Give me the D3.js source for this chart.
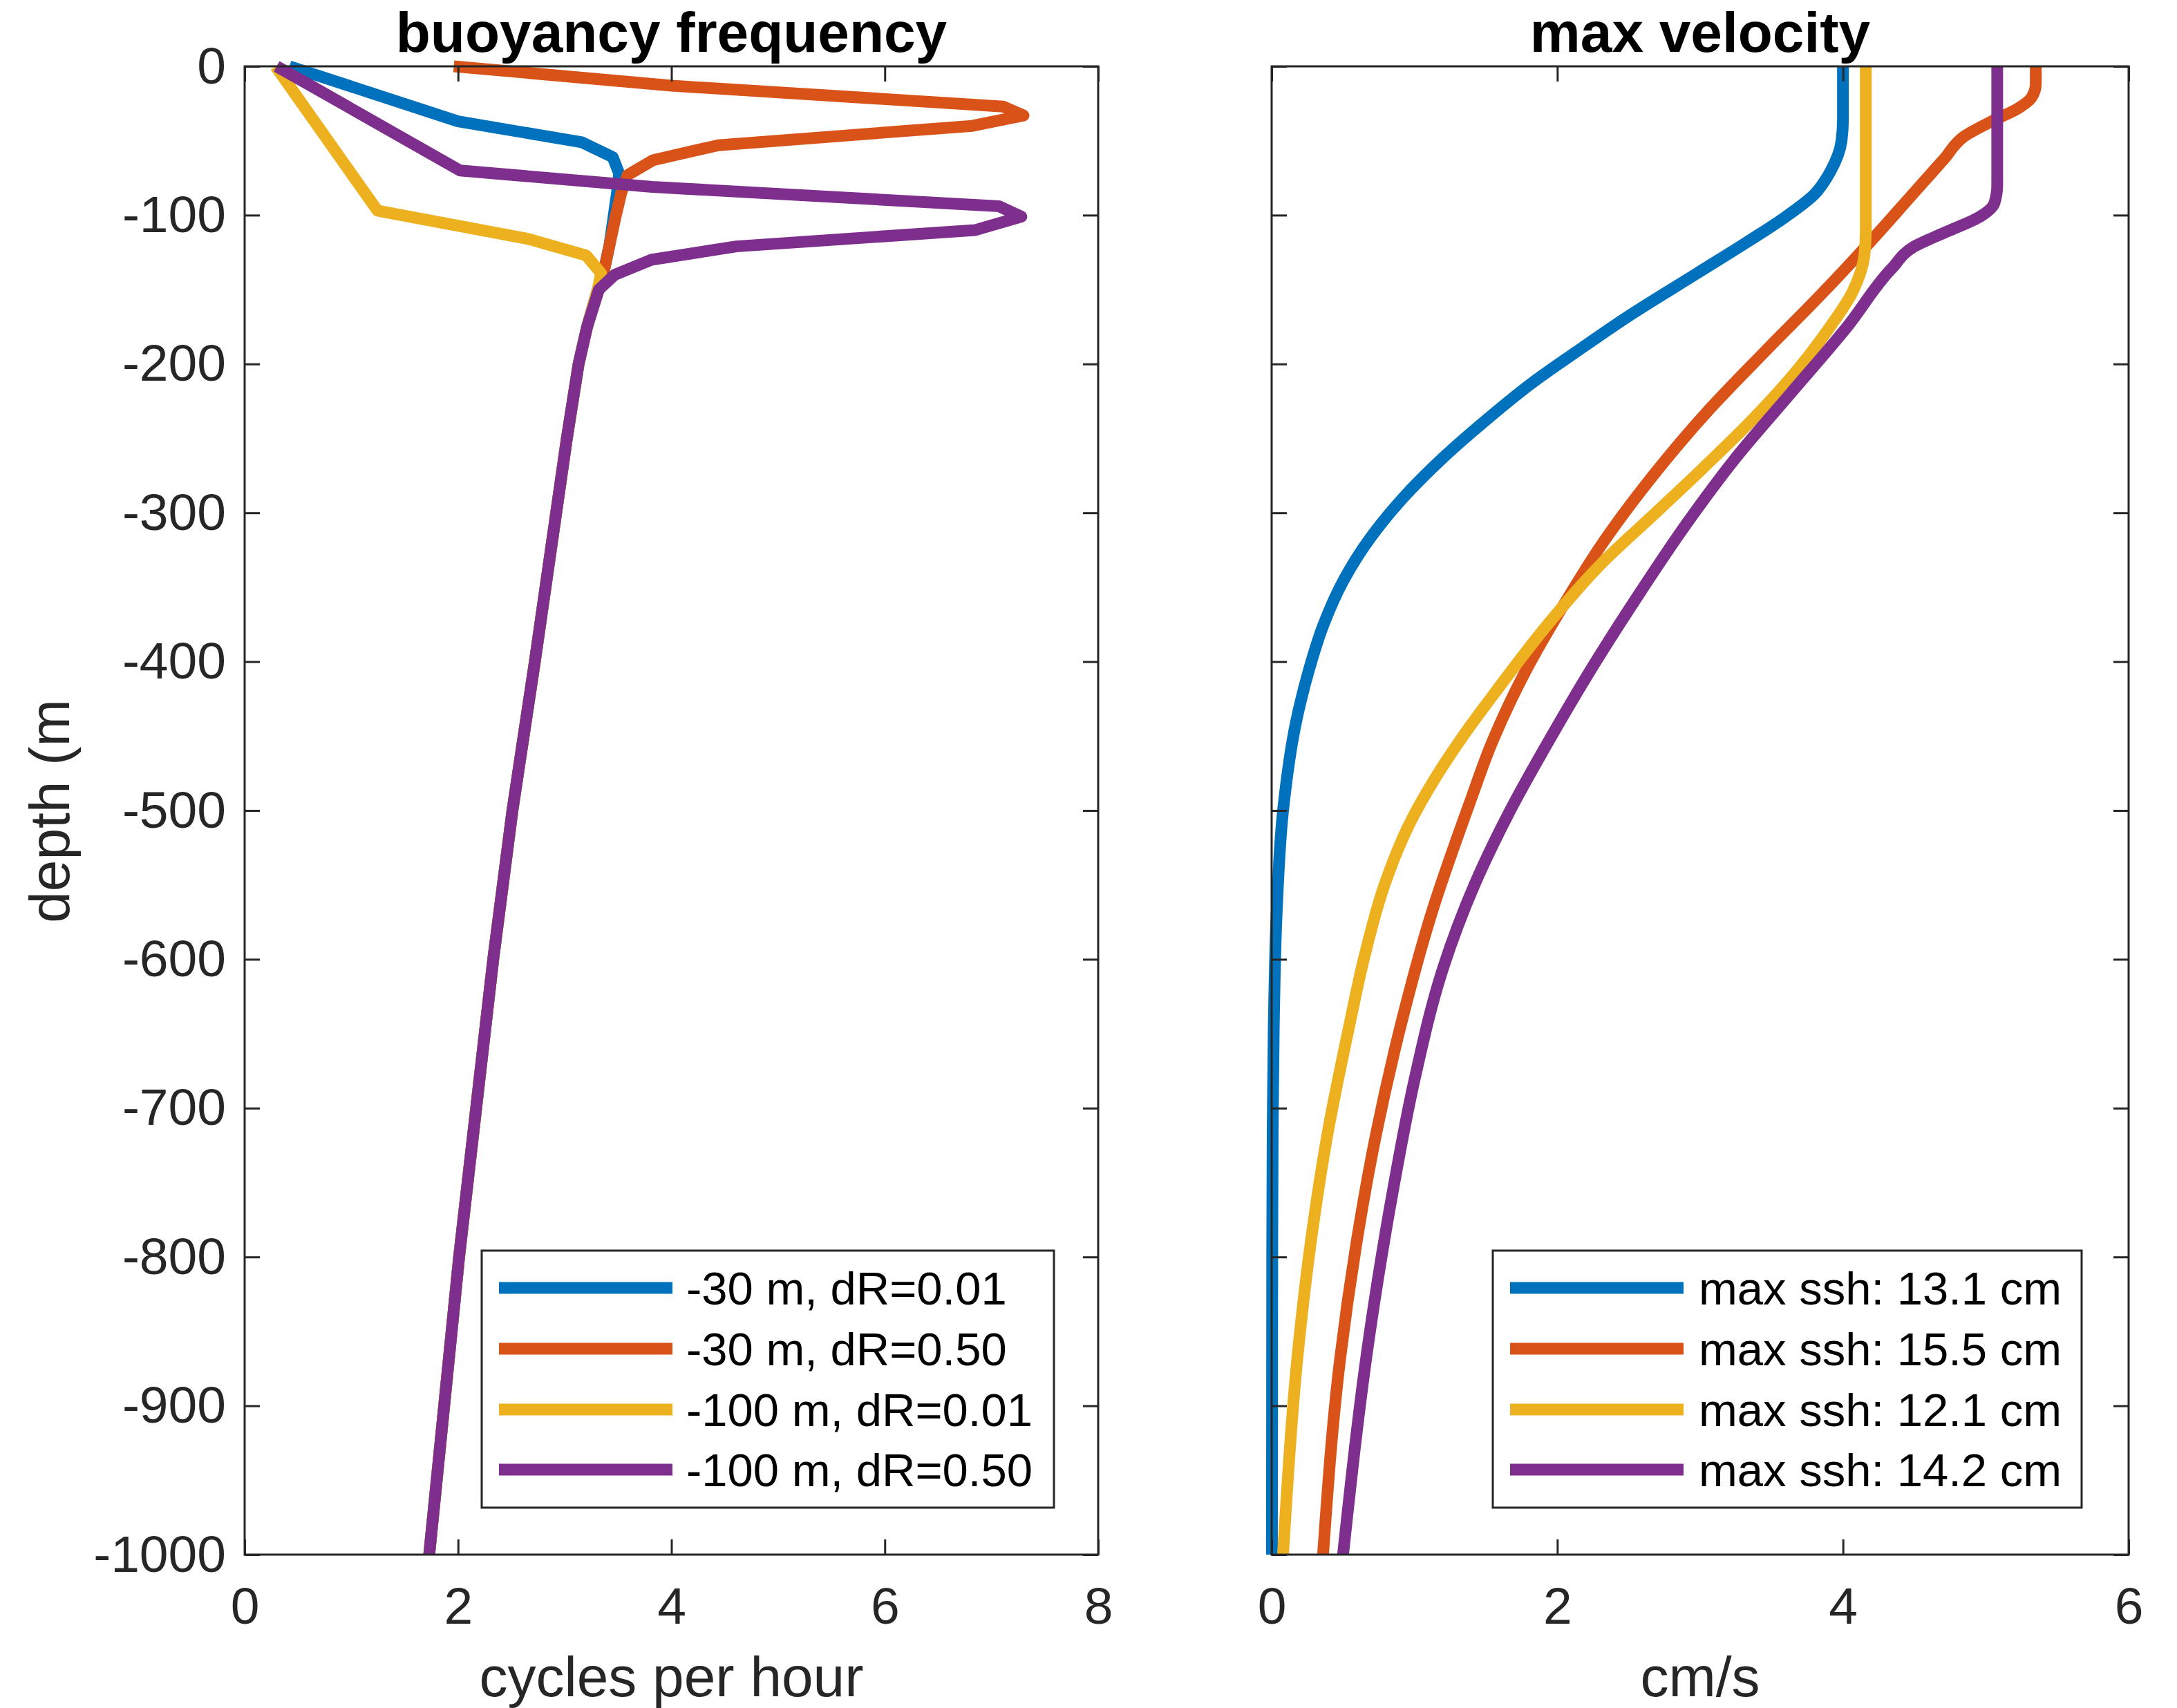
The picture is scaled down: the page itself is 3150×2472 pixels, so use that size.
<!DOCTYPE html>
<html>
<head>
<meta charset="utf-8">
<script src="https://cdn.jsdelivr.net/npm/d3@7"></script>
<style>
  html, body { margin: 0; padding: 0; background: #ffffff; }
  svg { display: block; }
  text { font-family: "Liberation Sans", Arial, Helvetica, sans-serif; }
</style>
</head>
<body>
<svg id="chart" width="3150" height="2472"></svg>
<script>
// ---------------- DATA ----------------
const seriesColors = ["#0072BD", "#D95319", "#EDB120", "#7E2F8E"];
const leftLegend = ["-30 m, dR=0.01", "-30 m, dR=0.50", "-100 m, dR=0.01", "-100 m, dR=0.50"];
const rightLegend = ["max ssh: 13.1 cm", "max ssh: 15.5 cm", "max ssh: 12.1 cm", "max ssh: 14.2 cm"];

const xTicksLeft = [0, 2, 4, 6, 8];
const xTicksRight = [0, 2, 4, 6];
const yTicks = [0, -100, -200, -300, -400, -500, -600, -700, -800, -900, -1000];

// buoyancy frequency (cycles per hour) vs depth (m)
const nDepthBlue   = [0, -37, -51, -61, -72, -85, -100, -120, -140, -150, -175, -200, -250, -300, -400, -500, -600, -700, -800, -900, -1000];
const nBlue        = [0.42, 2.0, 3.16, 3.45, 3.51, 3.49, 3.46, 3.42, 3.36, 3.31, 3.21, 3.13, 3.02, 2.92, 2.72, 2.51, 2.33, 2.17, 2.01, 1.87, 1.73];
const nDepthOrange = [0, -13, -27, -33, -40, -53, -63, -73, -85, -100, -120, -140, -150, -175, -200, -250, -300, -400, -500, -600, -700, -800, -900, -1000];
const nOrange      = [1.96, 4.0, 7.11, 7.30, 6.82, 4.44, 3.83, 3.59, 3.53, 3.48, 3.42, 3.36, 3.31, 3.21, 3.13, 3.02, 2.92, 2.72, 2.51, 2.33, 2.17, 2.01, 1.87, 1.73];
const nDepthYellow = [0, -97, -116, -127, -139, -150, -175, -200, -250, -300, -400, -500, -600, -700, -800, -900, -1000];
const nYellow      = [0.29, 1.245, 2.66, 3.2, 3.34, 3.31, 3.21, 3.13, 3.02, 2.92, 2.72, 2.51, 2.33, 2.17, 2.01, 1.87, 1.73];
const nDepthPurple = [0, -70, -81, -94, -101, -110, -121, -130, -140, -150, -175, -200, -250, -300, -400, -500, -600, -700, -800, -900, -1000];
const nPurple      = [0.3, 2.02, 3.82, 7.07, 7.28, 6.85, 4.61, 3.81, 3.47, 3.32, 3.21, 3.13, 3.02, 2.92, 2.72, 2.51, 2.33, 2.17, 2.01, 1.87, 1.73];

// max velocity (cm/s) vs depth (m)
const vDepthBlue   = [0, -35, -50, -71, -86, -101, -118, -139, -169, -192, -213, -237, -263, -290, -317, -346, -376, -406, -441, -500, -569, -644, -718, -800, -900, -1000];
const vBlue        = [4.0, 4.0, 3.99, 3.91, 3.80, 3.60, 3.33, 2.98, 2.48, 2.13, 1.82, 1.51, 1.20, 0.92, 0.69, 0.50, 0.36, 0.26, 0.17, 0.08, 0.035, 0.015, 0.007, 0.004, 0.003, 0.002];
const vDepthOrange = [0, -12, -21, -28, -37, -47, -62, -89, -118, -154, -192, -231, -275, -320, -361, -406, -455, -494, -569, -644, -718, -793, -868, -1000];
const vOrange      = [5.35, 5.35, 5.32, 5.23, 5.04, 4.85, 4.71, 4.46, 4.19, 3.84, 3.45, 3.06, 2.67, 2.32, 2.05, 1.78, 1.54, 1.39, 1.12, 0.905, 0.73, 0.59, 0.48, 0.36];
const vDepthYellow = [0, -110, -127, -151, -175, -204, -237, -270, -299, -335, -373, -420, -450, -476, -510, -550, -600, -644, -718, -793, -868, -1000];
const vYellow      = [4.16, 4.16, 4.15, 4.07, 3.91, 3.68, 3.37, 3.02, 2.70, 2.30, 1.95, 1.57, 1.34, 1.16, 0.96, 0.79, 0.645, 0.545, 0.39, 0.27, 0.18, 0.08];
const vDepthPurple = [0, -80, -92, -101, -111, -121, -136, -175, -219, -263, -308, -352, -403, -450, -500, -550, -606, -681, -755, -849, -1000];
const vPurple      = [5.08, 5.08, 5.06, 4.96, 4.73, 4.50, 4.34, 4.03, 3.64, 3.25, 2.90, 2.59, 2.25, 1.96, 1.67, 1.42, 1.20, 1.00, 0.85, 0.69, 0.50];

const leftSeries = [
  {x: nBlue, z: nDepthBlue}, {x: nOrange, z: nDepthOrange},
  {x: nYellow, z: nDepthYellow}, {x: nPurple, z: nDepthPurple}
];
const rightSeries = [
  {x: vBlue, z: vDepthBlue}, {x: vOrange, z: vDepthOrange},
  {x: vYellow, z: vDepthYellow}, {x: vPurple, z: vDepthPurple}
];

// ---------------- LAYOUT ----------------
const svg = d3.select("#chart");
const axisColor = "#262626";
const plotTop = 96, plotBottom = 2250;
const fmt = d => String(d);
const panels = [
  {x0: 354, x1: 1589, domain: [0, 8], ticks: xTicksLeft, title: "buoyancy frequency", xlabel: "cycles per hour",
   series: leftSeries, legend: leftLegend, curve: d3.curveLinear, yLabels: true,
   leg: {x0: 697, x1: 1525, lineX0: 722, lineX1: 973, textX: 993}},
  {x0: 1840, x1: 3080, domain: [0, 6], ticks: xTicksRight, title: "max velocity", xlabel: "cm/s",
   series: rightSeries, legend: rightLegend, curve: d3.curveMonotoneY, yLabels: false,
   leg: {x0: 2160, x1: 3012, lineX0: 2185, lineX1: 2436, textX: 2458}}
];

const y = d3.scaleLinear().domain([-1000, 0]).range([plotBottom, plotTop]);

panels.forEach(p => {
  const x = d3.scaleLinear().domain(p.domain).range([p.x0, p.x1]);
  const g = svg.append("g");

  // data lines
  const line = d3.line().x(d => x(d[0])).y(d => y(d[1])).curve(p.curve);
  p.series.forEach((s, i) => {
    const pts = s.x.map((v, k) => [v, s.z[k]]);
    g.append("path").datum(pts)
      .attr("d", line)
      .attr("fill", "none")
      .attr("stroke", seriesColors[i])
      .attr("stroke-width", 17)
      .attr("stroke-linejoin", "round")
      .attr("stroke-linecap", "butt");
  });

  // axes (ticks inward)
  const tickLen = 22;
  const styleAxis = sel => {
    sel.select(".domain").remove();
    sel.attr("font-family", null).attr("font-size", null);
    sel.selectAll(".tick line").attr("stroke", axisColor).attr("stroke-width", 3);
    sel.selectAll(".tick text").attr("fill", axisColor).style("font-size", "75px");
  };
  g.append("g").attr("transform", `translate(0,${plotBottom})`)
    .call(d3.axisBottom(x).tickValues(p.ticks).tickSizeInner(-tickLen).tickSizeOuter(0).tickPadding(47).tickFormat(fmt))
    .call(styleAxis);
  g.append("g").attr("transform", `translate(0,${plotTop})`)
    .call(d3.axisTop(x).tickValues(p.ticks).tickSizeInner(-tickLen).tickSizeOuter(0).tickFormat(""))
    .call(styleAxis);
  g.append("g").attr("transform", `translate(${p.x0},0)`)
    .call(d3.axisLeft(y).tickValues(yTicks).tickSizeInner(-tickLen).tickSizeOuter(0).tickPadding(27)
      .tickFormat(p.yLabels ? fmt : ""))
    .call(styleAxis);
  g.append("g").attr("transform", `translate(${p.x1},0)`)
    .call(d3.axisRight(y).tickValues(yTicks).tickSizeInner(-tickLen).tickSizeOuter(0).tickFormat(""))
    .call(styleAxis);

  // box
  g.append("rect").attr("x", p.x0).attr("y", plotTop)
    .attr("width", p.x1 - p.x0).attr("height", plotBottom - plotTop)
    .attr("fill", "none").attr("stroke", axisColor).attr("stroke-width", 3);

  // title
  g.append("text").attr("x", (p.x0 + p.x1) / 2).attr("y", 75)
    .attr("text-anchor", "middle").attr("font-weight", "bold")
    .style("font-size", "82px").attr("fill", "#000").text(p.title);

  // x label
  g.append("text").attr("x", (p.x0 + p.x1) / 2).attr("y", 2455)
    .attr("text-anchor", "middle").style("font-size", "82px")
    .attr("fill", axisColor).text(p.xlabel);

  // legend
  const L = p.leg;
  const rows = [1864, 1952, 2040, 2127];
  g.append("rect").attr("x", L.x0).attr("y", 1810)
    .attr("width", L.x1 - L.x0).attr("height", 2182 - 1810)
    .attr("fill", "#fff").attr("stroke", axisColor).attr("stroke-width", 3);
  p.legend.forEach((lab, i) => {
    g.append("line").attr("x1", L.lineX0).attr("x2", L.lineX1)
      .attr("y1", rows[i]).attr("y2", rows[i])
      .attr("stroke", seriesColors[i]).attr("stroke-width", 17);
    g.append("text").attr("x", L.textX).attr("y", rows[i]).attr("dy", "0.36em")
      .style("font-size", "67px").attr("fill", "#000").text(lab);
  });
});

// y label
svg.append("text")
  .attr("transform", "translate(100,1174) rotate(-90)")
  .attr("text-anchor", "middle").style("font-size", "82px")
  .attr("fill", axisColor).text("depth (m");
</script>
</body>
</html>
